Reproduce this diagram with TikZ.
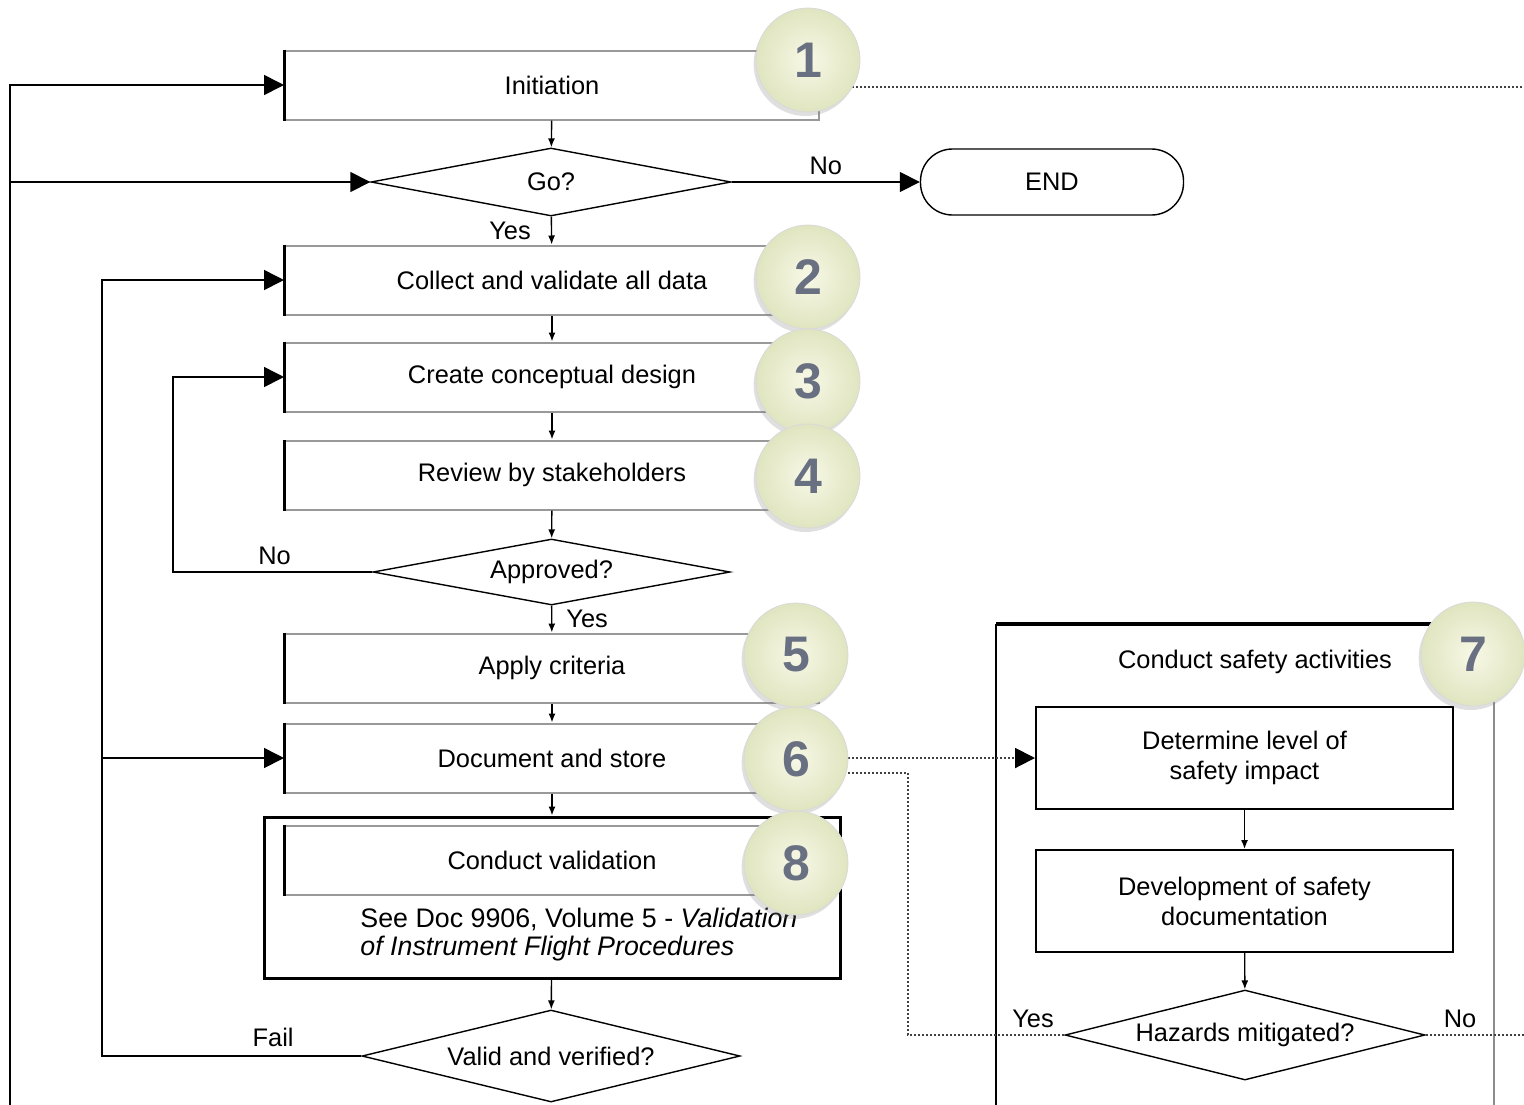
\documentclass[tikz,border=0pt]{standalone}
\usepackage{fontspec}
\setmainfont{Liberation Sans}
\usetikzlibrary{shapes.geometric,arrows.meta,shadows}
\definecolor{badgetext}{RGB}{104,112,130}
\definecolor{badgein}{RGB}{247,248,230}
\definecolor{badgeout}{RGB}{224,229,192}
\tikzset{
  procbox/.style={rectangle, draw=black!40, line width=1pt, fill=white,
    minimum width=267pt, minimum height=34.5pt, inner sep=0pt,
    append after command={(\tikzlastnode.north west) edge[black, line width=1.5pt] (\tikzlastnode.south west)}},
  safetybox/.style={rectangle, draw, line width=1pt, align=center,
    minimum width=208.5pt, minimum height=51pt, inner sep=0pt},
  decision/.style={diamond, draw, line width=0.7pt, aspect=5, inner sep=0pt},
  endbox/.style={rectangle, rounded corners=16pt, draw, line width=0.7pt,
    minimum width=131.5pt, minimum height=33pt},
  badge/.style={circle, minimum size=52pt, inner sep=0pt, draw=white!85!black,
    line width=0.4pt, inner color=badgein, outer color=badgeout,
    text=badgetext, font=\fontsize{25}{25}\selectfont\bfseries,
    drop shadow={shadow xshift=-1.2pt, shadow yshift=-2pt, opacity=0.25}},
  dotline/.style={densely dotted, line width=1pt, draw=black!75},
  lbl/.style={inner sep=1pt, text=black}
}
\begin{document}
\begin{tikzpicture}[x=0.5pt, y=-0.5pt, font=\fontsize{12.7}{15}\selectfont]
  \useasboundingbox (0,0) rectangle (1524,1104);
  \clip (0,0) rectangle (1524,1104);
  \node[procbox] (init) at (552,85) {Initiation};
  \node[decision, minimum width=180pt, minimum height=34pt] (go) at (551,182) {Go?};
  \node[endbox] (end) at (1052,182) {END};
  \node[procbox] (collect) at (552,280) {Collect and validate all data};
  \node[procbox] (concept) at (552,377) {Create conceptual design};
  \node[procbox] (review) at (552,475) {Review by stakeholders};
  \node[decision, minimum width=178.5pt, minimum height=33pt] (approved) at (551.5,572) {Approved?};
  \node[procbox] (apply) at (552,668) {Apply criteria};
  \node[procbox] (docstore) at (552,758) {Document and store};
  \node[rectangle, draw, line width=1.5pt, minimum width=288pt, minimum height=80.5pt] (valgroup) at (552,897.5) {};
  \node[procbox] (validation) at (552,860) {Conduct validation};
  \node[anchor=north west, align=left, inner sep=0pt, font=\fontsize{13.4}{14}\selectfont] (seedoc) at (360,908)
    {See Doc 9906, Volume 5 - \textit{Validation}\\\textit{of Instrument Flight Procedures}};
  \node[decision, minimum width=189pt, minimum height=46pt] (valid) at (551,1056) {Valid and verified?};

  \draw[line width=1.6pt] (996,624) -- (1494,624);
  \draw[line width=0.8pt] (996,624) -- (996,1110);
  \draw[black!45, line width=1pt] (1494,624) -- (1494,1110);
  \node (safetytitle) at (1255,662) {Conduct safety activities};
  \node[safetybox] (impact) at (1244.5,758) {Determine level of\\safety impact};
  \node[safetybox] (safetydoc) at (1244.5,901) {Development of safety\\documentation};
  \node[decision, minimum width=180pt, minimum height=45pt] (hazards) at (1245,1035) {Hazards mitigated?};

  \coordinate (loopstart) at (10,1110);
  \coordinate (loopgo) at (10,182);
  \coordinate (failcorner) at (102,1056);
  \coordinate (failmid) at (102,758);
  \coordinate (nocorner) at (173,572);
  \coordinate (out1) at (1530,87);
  \coordinate (yesbend) at (908,773);
  \coordinate (out2) at (1530,1035);

  \begin{scope}[-{Latex[length=4.5pt,width=3.5pt]}, line width=0.7pt]
    \draw (init) -- (go);
    \draw (go) -- node[midway, left=9pt, lbl] {Yes} (collect);
    \draw (collect) -- (concept);
    \draw (concept) -- (review);
    \draw (review) -- (approved);
    \draw (approved) -- node[midway, right=6pt, lbl] {Yes} (apply);
    \draw (apply) -- (docstore);
    \draw (docstore) -- (valgroup);
    \draw (valgroup) -- (valid);
    \draw (impact) -- (safetydoc);
    \draw (safetydoc) -- (hazards);
  \end{scope}
  \begin{scope}[-{Triangle[length=10pt,width=10pt]}, line width=0.8pt]
    \draw (loopstart) |- (init);
    \draw (loopgo) -- (go);
    \draw (go) -- node[midway, above=2pt, lbl] {No} (end);
    \draw (valid) -- node[pos=0.34, above=3pt, lbl] {Fail} (failcorner) |- (collect);
    \draw (failmid) -- (docstore);
    \draw (approved) -- node[pos=0.49, above=2pt, lbl] {No} (nocorner) |- (concept);
  \end{scope}
  \draw[dotline] ([yshift=-1pt]init.east) -- (out1);
  \draw[dotline, -{Triangle[length=10pt,width=10pt,black]}] (docstore.east) -- (impact.west);
  \draw[dotline] ([yshift=-7.5pt]docstore.east) -- (yesbend) |- node[pos=0.9, above=2pt, lbl] {Yes} (hazards.west);
  \draw[dotline] (hazards.east) -- node[pos=0.33, above=2pt, lbl] {No} (out2);

  \node[badge] (n1) at (808,60) {1};
  \node[badge] (n2) at (808,277) {2};
  \node[badge] (n3) at (808,381) {3};
  \node[badge] (n4) at (808,476) {4};
  \node[badge] (n5) at (796,655) {5};
  \node[badge] (n6) at (796,759) {6};
  \node[badge] (n8) at (796,863) {8};
  \node[badge] (n7) at (1473,654) {7};
\end{tikzpicture}
\end{document}
